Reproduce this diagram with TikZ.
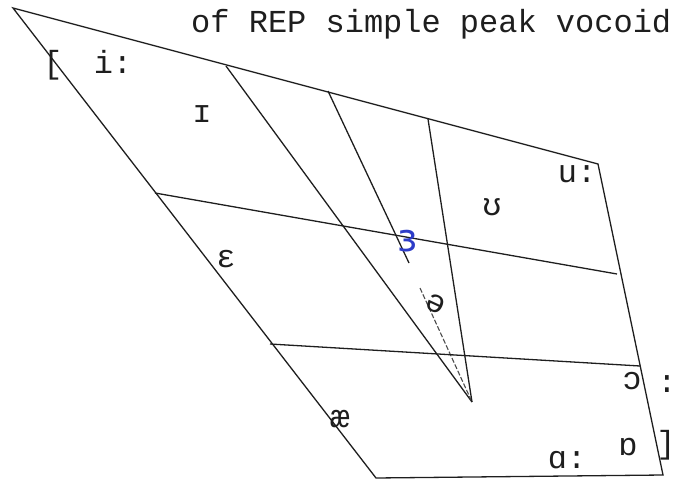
\documentclass[tikz,border=0pt]{standalone}
\usepackage{fontspec}
\newfontfamily\tw{Liberation Mono}
\newfontfamily\handfont{DejaVu Sans}
\definecolor{inkline}{RGB}{30,30,30}
\definecolor{inkblue}{RGB}{45,60,200}
\begin{document}
\begin{tikzpicture}[x=1pt,y=-1pt,
  chartline/.style={draw=inkline,line width=1.3pt},
  faintline/.style={draw=inkline!80,line width=1.1pt,dash pattern=on 5pt off 2pt},
  typed/.style={font=\tw\fontsize{32}{36}\selectfont,inner sep=0pt,anchor=base,text=inkline},
  bluemark/.style={font=\handfont\fontsize{38}{42}\selectfont,inner sep=0pt,text=inkblue}]
\useasboundingbox (0,0) rectangle (678,479);
% corners and line ends
\coordinate (TL) at (13,8);
\coordinate (TR) at (598,164);
\coordinate (BR) at (663,475);
\coordinate (BL) at (376,478);
\coordinate (T1) at (226,66);
\coordinate (T2) at (328,91);
\coordinate (T3) at (428,119);
\coordinate (C) at (472,402);
\coordinate (M2) at (409,263);
\coordinate (D2) at (420,288);
\coordinate (LA) at (155,193);
\coordinate (RA) at (617,274);
\coordinate (LB) at (270,344);
\coordinate (RB) at (640,366);
% outline
\draw[chartline] (TL) -- (TR) -- (BR) -- (BL) -- cycle;
% converging lines
\draw[chartline] (T1) -- (C);
\draw[chartline] (T2) -- (M2);
\draw[faintline] (D2) -- (C);
\draw[chartline] (T3) -- (C);
% cross lines
\draw[chartline] (LA) -- (RA);
\draw[chartline] (LB) -- (RB);
% labels
\node[typed,anchor=base west] (title) at (191,32) {of REP simple peak vocoid};
\node[typed] (lbr) at (53,73) {[};
\node[typed] (ii) at (113,73) {i:};
\node[typed] (ic) at (202,122) {ɪ};
\node[typed] (eps) at (226,267) {ɛ};
\node[typed] (ae) at (340,427) {æ};
\node[typed] (aa) at (567,468) {ɑ:};
\node[typed] (ob) at (628,455) {ɒ};
\node[typed] (rbr) at (666,453) {]};
\node[typed] (oo) at (632,389) {ɔ};
\node[typed] (oocolon) at (667,392) {:};
\node[typed] (uu) at (577,182) {u:};
\node[typed] (upsilon) at (492,215) {ʊ};
\node[bluemark] (er) at (408,241) {ɜ};
\node[typed,anchor=center,rotate=-25] (schwa) at (436,304) {ə};
\end{tikzpicture}
\end{document}
